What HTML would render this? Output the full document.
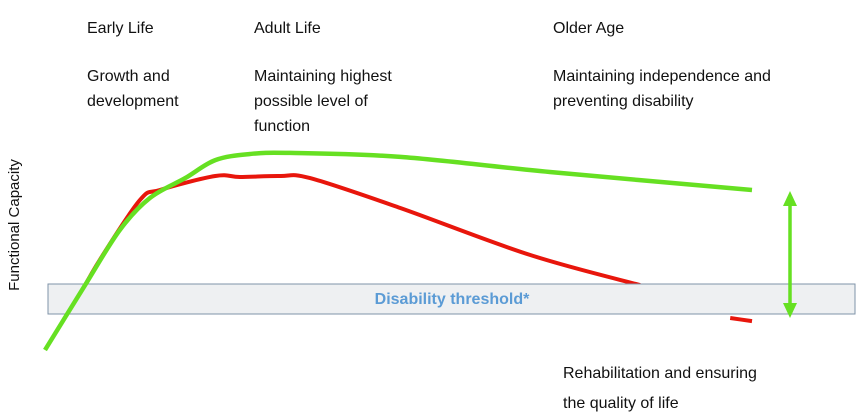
<!DOCTYPE html>
<html><head><meta charset="utf-8"><style>
body{margin:0;background:#fff;}
svg{display:block;font-family:"Liberation Sans",sans-serif;}
</style></head><body>
<svg width="858" height="414" viewBox="0 0 858 414">
<g font-size="16" fill="#111">
<text x="87" y="33">Early Life</text>
<text x="87" y="81">Growth and</text>
<text x="87" y="106">development</text>
<text x="254" y="33">Adult Life</text>
<text x="254" y="81">Maintaining highest</text>
<text x="254" y="106">possible level of</text>
<text x="254" y="131">function</text>
<text x="553" y="33">Older Age</text>
<text x="553" y="81">Maintaining independence and</text>
<text x="553" y="106">preventing disability</text>
<text x="563" y="378">Rehabilitation and ensuring</text>
<text x="563" y="408">the quality of life</text>
<text transform="translate(19,225) rotate(-90)" text-anchor="middle" font-size="15">Functional Capacity</text>
</g>
<g id="series"></g>
<rect x="48" y="284" width="807" height="30" fill="#eef0f2" stroke="#7f93a8" stroke-width="1"/>
<text x="452" y="304" text-anchor="middle" font-size="16" font-weight="bold" fill="#5b9bd5">Disability threshold*</text>
<g id="series-top"></g>
<g fill="#66e022" stroke="#66e022">
<line x1="790" y1="200" x2="790" y2="308" stroke-width="3.5"/>
<polygon points="790,191 783,206 797,206" stroke="none"/>
<polygon points="790,318 783,303 797,303" stroke="none"/>
</g>
</svg>
<script>
const greenAges=[0,6.8,12.7,17.8,23.8,28.9,34.8,41.6,60.3,85.7,120];
const greenVals=[0,24.5,45.3,57.4,64.9,71.7,74,74.4,72.9,67.2,60.4];
const redAges=[5.9,9.3,16.1,19.5,28.9,33.1,39.9,45,60.3,82.3,101];
const redVals=[20.8,34,56.6,60.4,65.7,65.3,65.7,64.9,53.6,35.9,24.5];
const redEndAges=[116.3,120];
const redEndVals=[12.1,10.9];
const X=a=>45+a*(752-45)/120;
const Y=v=>350-v*(350-154)/74;
function path(xs,vs){
  const p=vs.map((v,i)=>[X(xs[i]),Y(v)]);
  const f=n=>n.toFixed(1);
  let d='M'+f(p[0][0])+','+f(p[0][1]);
  for(let i=0;i+1<p.length;i++){
    const p0=p[Math.max(0,i-1)],p1=p[i],p2=p[i+1],p3=p[Math.min(p.length-1,i+2)];
    const c1=[p1[0]+(p2[0]-p0[0])/6,p1[1]+(p2[1]-p0[1])/6];
    const c2=[p2[0]-(p3[0]-p1[0])/6,p2[1]-(p3[1]-p1[1])/6];
    d+='C'+f(c1[0])+','+f(c1[1])+' '+f(c2[0])+','+f(c2[1])+' '+f(p2[0])+','+f(p2[1]);
  }
  return d;
}
const ns='http://www.w3.org/2000/svg';
const red=document.createElementNS(ns,'path');


red.setAttribute('d',path(redAges,redVals)+path(redEndAges,redEndVals));
red.setAttribute('fill','none');red.setAttribute('stroke','#e8160c');red.setAttribute('stroke-width','4');red.setAttribute('stroke-linejoin','round');
document.getElementById('series').appendChild(red);
const green=document.createElementNS(ns,'path');


green.setAttribute('d',path(greenAges,greenVals));
green.setAttribute('fill','none');green.setAttribute('stroke','#66e022');green.setAttribute('stroke-width','4.5');green.setAttribute('stroke-linejoin','round');
document.getElementById('series-top').appendChild(green);
</script>
</body></html>
